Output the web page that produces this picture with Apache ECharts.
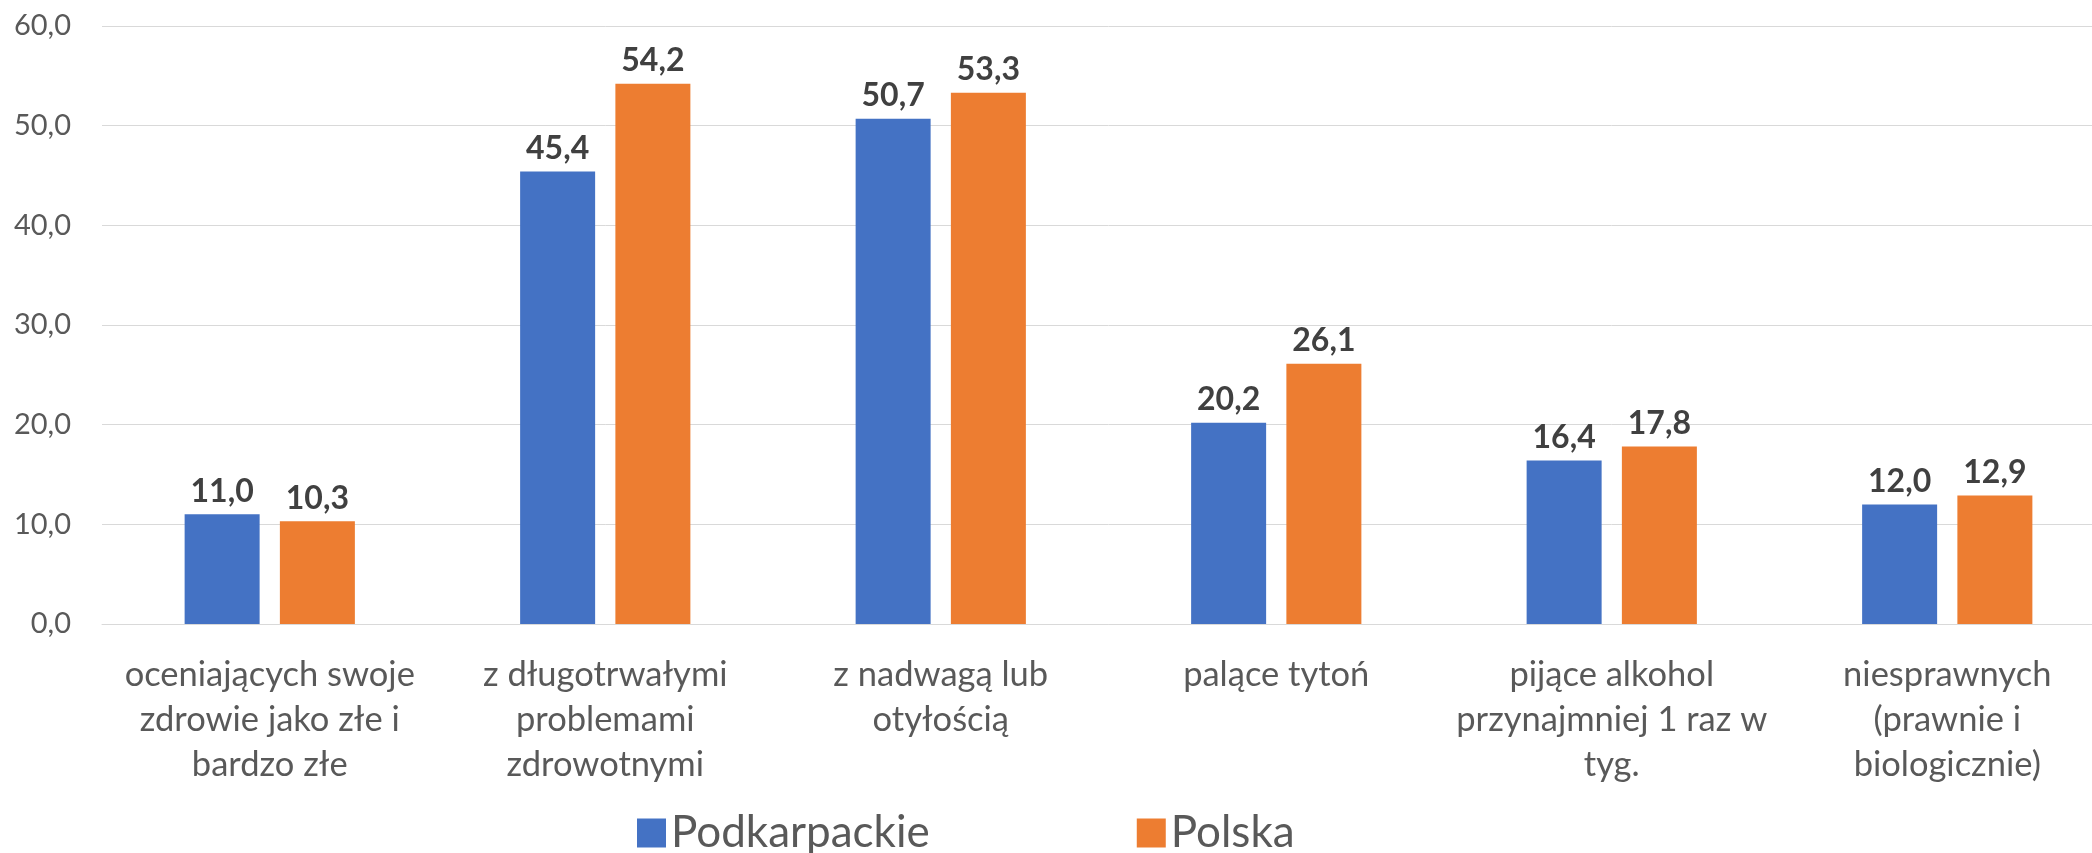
<!DOCTYPE html>
<html>
<head>
<meta charset="utf-8">
<script src="https://cdn.jsdelivr.net/npm/echarts@6/dist/echarts.min.js"></script>
<style>
  html, body { margin: 0; padding: 0; background: #fff; overflow: hidden; }
  /* obszar wykresu wychodzi poza prawą krawędź (obraz przycięty) */
  #chart { width: 2115px; height: 853px; }
</style>
</head>
<body>
<div id="chart"></div>
<script>
// dane z wykresu
const categories = [
  'oceniających swoje\nzdrowie jako złe i\nbardzo złe',
  'z długotrwałymi\nproblemami\nzdrowotnymi',
  'z nadwagą lub\notyłością',
  'palące tytoń',
  'pijące alkohol\nprzynajmniej 1 raz w\ntyg.',
  'niesprawnych\n(prawnie i\nbiologicznie)'
];
const podkarpackie = [11.0, 45.4, 50.7, 20.2, 16.4, 12.0];
const polska = [10.3, 54.2, 53.3, 26.1, 17.8, 12.9];
const seriesNames = ['Podkarpackie', 'Polska'];
const yTicks = { min: 0, max: 60, interval: 10 };

const font = 'Lato, "Noto Sans", sans-serif';
const fmt = v => Number(v).toFixed(1).replace('.', ',');

const chart = echarts.init(document.getElementById('chart'));

const labelStyle = {
  show: true,
  position: 'top',
  distance: 7,
  color: '#404040',
  fontFamily: font,
  fontWeight: 'bold',
  fontSize: 32,
  formatter: p => fmt(p.value)
};

chart.setOption({
  animation: false,
  grid: { left: 102, right: 0, top: 26, bottom: 229 },
  legend: {
    left: 632,
    top: 806,
    itemWidth: 29,
    itemHeight: 29,
    itemGap: 207,
    icon: 'rect',
    textStyle: { color: '#595959', fontFamily: font, fontSize: 44 },
    data: seriesNames
  },
  xAxis: {
    type: 'category',
    data: categories,
    axisLine: { lineStyle: { color: '#d9d9d9', width: 1 } },
    axisTick: { show: false },
    axisLabel: {
      color: '#595959',
      fontFamily: font,
      fontSize: 34.5,
      lineHeight: 45,
      margin: 28,
      interval: 0
    }
  },
  yAxis: {
    type: 'value',
    min: yTicks.min,
    max: yTicks.max,
    interval: yTicks.interval,
    axisLine: { show: false },
    axisTick: { show: false },
    splitLine: { lineStyle: { color: '#d9d9d9', width: 1 } },
    axisLabel: {
      color: '#595959',
      fontFamily: font,
      fontSize: 29,
      margin: 31,
      formatter: v => fmt(v)
    }
  },
  series: [
    {
      name: seriesNames[0],
      type: 'bar',
      data: podkarpackie,
      barWidth: 75,
      barGap: '27%',
      itemStyle: { color: '#4472c4' },
      label: labelStyle
    },
    {
      name: seriesNames[1],
      type: 'bar',
      data: polska,
      barWidth: 75,
      itemStyle: { color: '#ed7d31' },
      label: labelStyle
    }
  ]
});
</script>
</body>
</html>
